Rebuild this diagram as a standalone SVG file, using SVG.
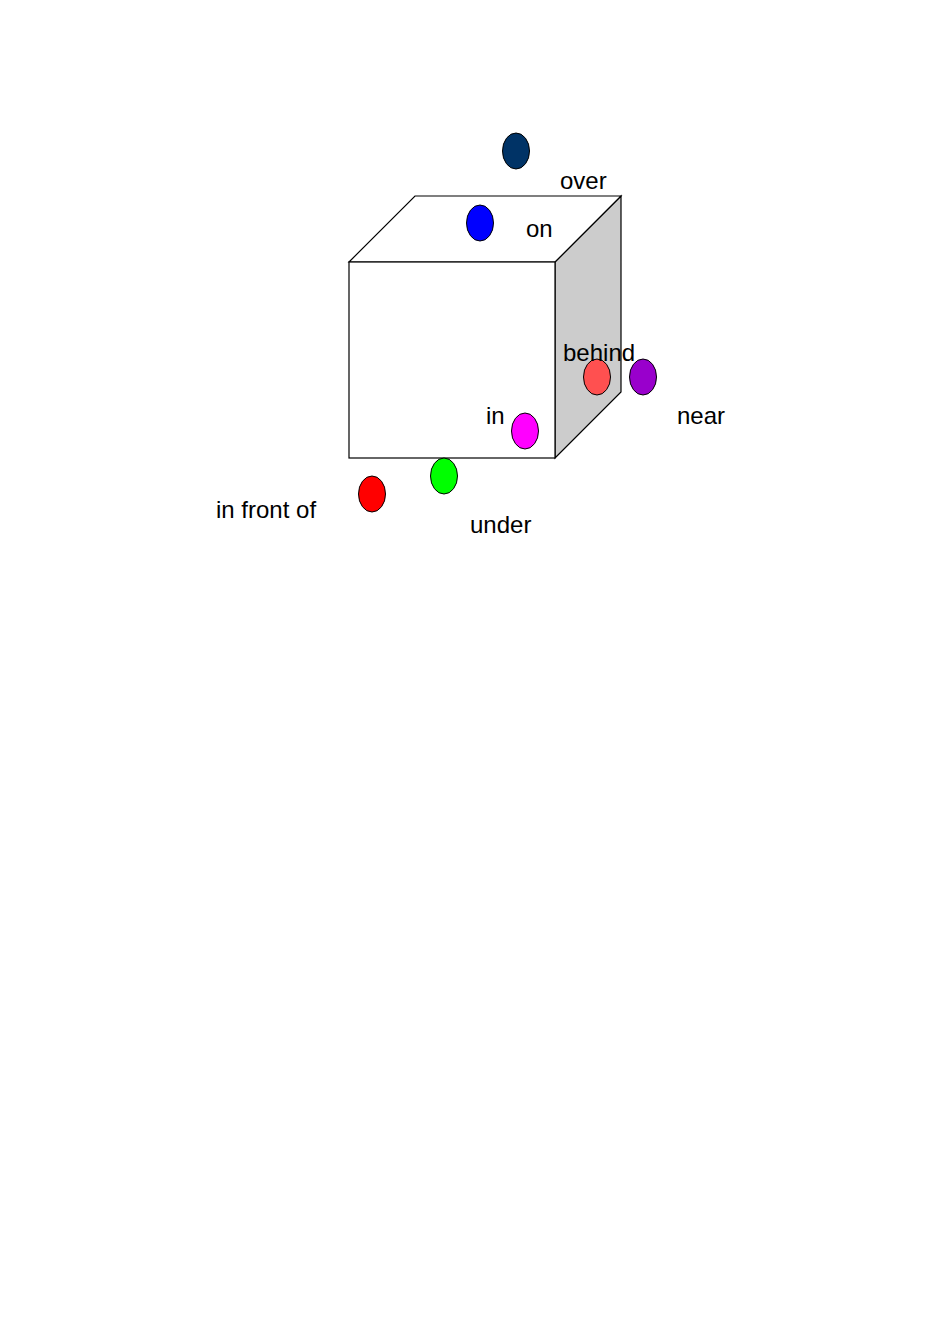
<svg xmlns="http://www.w3.org/2000/svg" width="950" height="1344" viewBox="0 0 950 1344">
<style>
.e{stroke:#000;stroke-width:1}
.f{stroke:#000;stroke-width:1.2;stroke-linejoin:miter}
text{font-family:"Liberation Sans",Arial,sans-serif;font-size:24px;fill:#000}
</style>
<rect width="950" height="1344" fill="#fff"/>
<g id="cube">
<polygon class="f" points="555,262 621,196 621,392 555,458" fill="#cccccc"/>
<polygon class="f" points="349,262 415,196 621,196 555,262" fill="#fff"/>
<rect class="f" x="349" y="262" width="206" height="196" fill="#fff"/>
</g>
<g id="over"><ellipse class="e" cx="516" cy="151" rx="13.5" ry="18" fill="#003366"/><text x="560" y="189">over</text></g>
<g id="on"><ellipse class="e" cx="480" cy="223" rx="13.5" ry="18" fill="#0000ff"/><text x="526" y="237">on</text></g>
<g id="behind"><ellipse class="e" cx="597" cy="377" rx="13.5" ry="18" fill="#ff5050"/><text x="563" y="361">behind</text></g>
<g id="near"><ellipse class="e" cx="643" cy="377" rx="13.5" ry="18" fill="#9900cc"/><text x="677" y="424">near</text></g>
<g id="in"><ellipse class="e" cx="525" cy="431" rx="13.5" ry="18" fill="#ff00ff"/><text x="486" y="424">in</text></g>
<g id="under"><ellipse class="e" cx="444" cy="476" rx="13.5" ry="18" fill="#00ff00"/><text x="470" y="533">under</text></g>
<g id="infront"><ellipse class="e" cx="372" cy="494" rx="13.5" ry="18" fill="#ff0000"/><text x="216" y="518">in front of</text></g>
<g id="connectors"/>
</svg>
